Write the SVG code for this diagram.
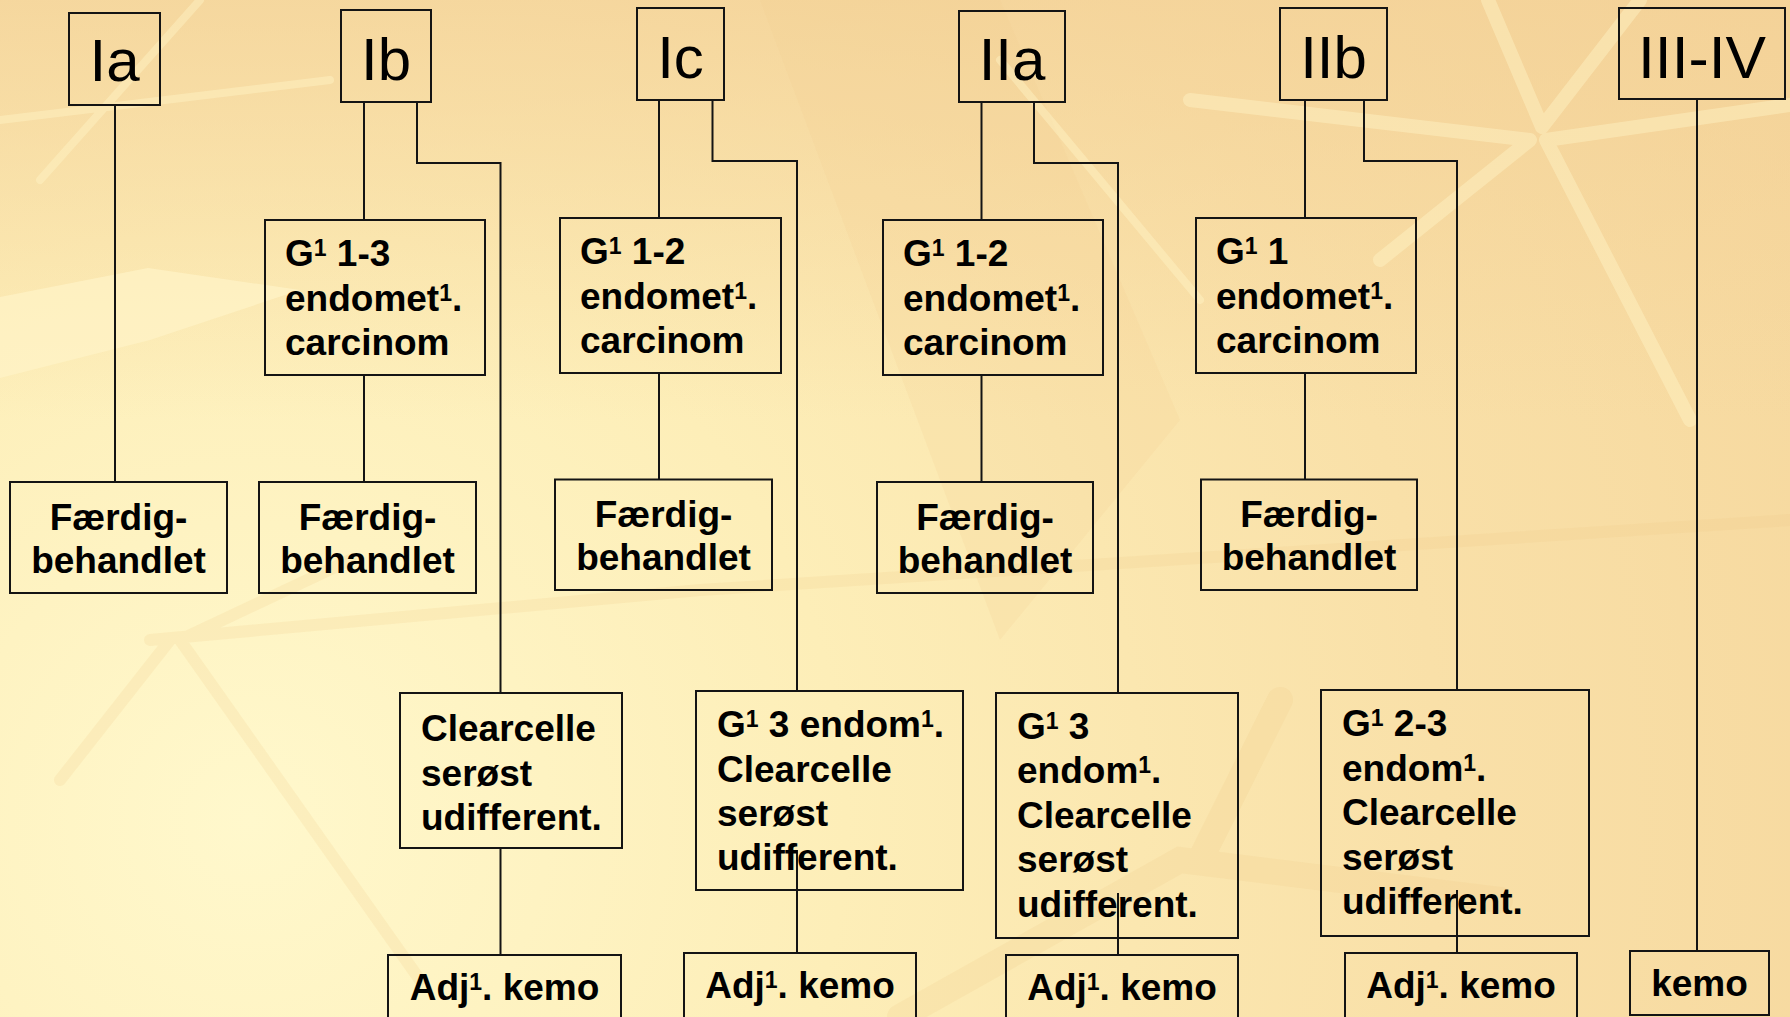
<svg xmlns="http://www.w3.org/2000/svg" width="1790" height="1017" viewBox="0 0 1790 1017">
<defs>
<radialGradient id="bg" cx="250" cy="820" r="1700" gradientUnits="userSpaceOnUse">
<stop offset="0" stop-color="#FFF8CC"/>
<stop offset="0.35" stop-color="#FDEEB8"/>
<stop offset="0.7" stop-color="#F9E0A8"/>
<stop offset="1" stop-color="#F6D89E"/>
</radialGradient>
<linearGradient id="tl" x1="0" y1="0" x2="0" y2="1">
<stop offset="0" stop-color="#F3D096" stop-opacity="0.7"/>
<stop offset="1" stop-color="#F3D096" stop-opacity="0"/>
</linearGradient>
</defs>
<style>
.box{fill:none;stroke:#141414;stroke-width:2}
.con{fill:none;stroke:#141414;stroke-width:2}
.lbl{font-family:"Liberation Sans",Arial,sans-serif;font-size:60px;fill:#000;text-anchor:middle}
.t{font-family:"Liberation Sans",Arial,sans-serif;font-size:37px;font-weight:bold;fill:#000}
.c{text-anchor:middle}
.sup{font-size:23px}
.lite{fill:none;stroke:#FFF3C6;stroke-linecap:round;opacity:0.45}
.dark{fill:none;stroke:#F0C684;stroke-linecap:round;opacity:0.18}
</style>
<g id="background">
<rect width="1790" height="1017" fill="url(#bg)"/>
<rect width="1790" height="420" fill="url(#tl)"/>
<path d="M0 297 L148 268 L300 290 L150 340 L0 378 Z" fill="#FFF4C8" opacity="0.7"/>
<path d="M760 0 L1000 0 L1180 420 L1000 640 Z" fill="#F3CE90" opacity="0.18"/>
<path d="M1190 100 L1530 140 M1488 0 L1542 127 M1640 0 L1542 127 M1546 140 L1690 420 M1546 140 L1790 105 M1530 140 L1380 260" class="lite" stroke-width="14"/>
<path d="M200 0 L40 180 M0 120 L330 80 M1000 60 L1200 300" class="lite" stroke-width="8"/>
<path d="M150 640 L700 590 L1790 520 M170 640 L60 780 M180 640 L420 980 M180 640 L350 560" class="dark" stroke-width="12"/>
<path d="M900 1017 L1180 860 L1500 900 M1200 860 L1280 700" class="dark" stroke-width="26"/>
</g>
<g id="connectors">
<path class="con" d="M115 105 V482"/>
<path class="con" d="M364 102 V220 M364 375 V482 M417 102 V163 H500.5 V693 M500.5 848 V955"/>
<path class="con" d="M659 100 V218 M659 373 V479.5 M712.5 100 V161 H797 V691 M797 850 V953"/>
<path class="con" d="M981.5 102 V220 M981.5 375 V482 M1034 102 V163 H1118 V693 M1118 893 V955"/>
<path class="con" d="M1305 100 V218 M1305 373 V479.5 M1364 100 V161 H1457 V690 M1457 890 V953"/>
<path class="con" d="M1697 99 V951"/>
</g>
<g id="stage-Ia"><rect class="box" x="69" y="13" width="91" height="92"/><text class="lbl" x="114.5" y="81">Ia</text></g>
<g id="stage-Ib"><rect class="box" x="341" y="10" width="90" height="92"/><text class="lbl" x="386" y="80">Ib</text></g>
<g id="stage-Ic"><rect class="box" x="637" y="8" width="87" height="92"/><text class="lbl" x="680.5" y="78">Ic</text></g>
<g id="stage-IIa"><rect class="box" x="959" y="11" width="106" height="91"/><text class="lbl" x="1012" y="80">IIa</text></g>
<g id="stage-IIb"><rect class="box" x="1280" y="8" width="107" height="92"/><text class="lbl" x="1333.5" y="78">IIb</text></g>
<g id="stage-III-IV"><rect class="box" x="1619" y="8" width="166" height="91"/><text class="lbl" x="1702" y="78" textLength="128" lengthAdjust="spacingAndGlyphs">III-IV</text></g>

<g id="grade-Ib"><rect class="box" x="265" y="220" width="220" height="155"/>
<text class="t" x="285" y="266">G<tspan class="sup" dy="-10">1</tspan><tspan dy="10"> 1-3</tspan></text>
<text class="t" x="285" y="311">endomet<tspan class="sup" dy="-10">1</tspan><tspan dy="10">.</tspan></text>
<text class="t" x="285" y="355">carcinom</text></g>
<g id="grade-Ic"><rect class="box" x="560" y="218" width="221" height="155"/>
<text class="t" x="580" y="264">G<tspan class="sup" dy="-10">1</tspan><tspan dy="10"> 1-2</tspan></text>
<text class="t" x="580" y="309">endomet<tspan class="sup" dy="-10">1</tspan><tspan dy="10">.</tspan></text>
<text class="t" x="580" y="353">carcinom</text></g>
<g id="grade-IIa"><rect class="box" x="883" y="220" width="220" height="155"/>
<text class="t" x="903" y="266">G<tspan class="sup" dy="-10">1</tspan><tspan dy="10"> 1-2</tspan></text>
<text class="t" x="903" y="311">endomet<tspan class="sup" dy="-10">1</tspan><tspan dy="10">.</tspan></text>
<text class="t" x="903" y="355">carcinom</text></g>
<g id="grade-IIb"><rect class="box" x="1196" y="218" width="220" height="155"/>
<text class="t" x="1216" y="264">G<tspan class="sup" dy="-10">1</tspan><tspan dy="10"> 1</tspan></text>
<text class="t" x="1216" y="309">endomet<tspan class="sup" dy="-10">1</tspan><tspan dy="10">.</tspan></text>
<text class="t" x="1216" y="353">carcinom</text></g>

<g id="done-Ia"><rect class="box" x="10" y="482" width="217" height="111"/>
<text class="t c" x="118.5" y="530">Færdig-</text><text class="t c" x="118.5" y="573">behandlet</text></g>
<g id="done-Ib"><rect class="box" x="259" y="482" width="217" height="111"/>
<text class="t c" x="367.5" y="530">Færdig-</text><text class="t c" x="367.5" y="573">behandlet</text></g>
<g id="done-Ic"><rect class="box" x="555" y="479.5" width="217" height="110.5"/>
<text class="t c" x="663.5" y="527">Færdig-</text><text class="t c" x="663.5" y="570">behandlet</text></g>
<g id="done-IIa"><rect class="box" x="877" y="482" width="216" height="111"/>
<text class="t c" x="985" y="530">Færdig-</text><text class="t c" x="985" y="573">behandlet</text></g>
<g id="done-IIb"><rect class="box" x="1201" y="479.5" width="216" height="110.5"/>
<text class="t c" x="1309" y="527">Færdig-</text><text class="t c" x="1309" y="570">behandlet</text></g>

<g id="high-Ib"><rect class="box" x="400" y="693" width="222" height="155"/>
<text class="t" x="421" y="741">Clearcelle</text>
<text class="t" x="421" y="786">serøst</text>
<text class="t" x="421" y="830">udifferent.</text></g>
<g id="high-Ic"><rect class="box" x="696" y="691" width="267" height="199"/>
<text class="t" x="717" y="737">G<tspan class="sup" dy="-10">1</tspan><tspan dy="10"> 3 endom</tspan><tspan class="sup" dy="-10">1</tspan><tspan dy="10">.</tspan></text>
<text class="t" x="717" y="781.5">Clearcelle</text>
<text class="t" x="717" y="826">serøst</text>
<text class="t" x="717" y="870">udifferent.</text></g>
<g id="high-IIa"><rect class="box" x="996" y="693" width="242" height="245"/>
<text class="t" x="1017" y="738.5">G<tspan class="sup" dy="-10">1</tspan><tspan dy="10"> 3</tspan></text>
<text class="t" x="1017" y="783">endom<tspan class="sup" dy="-10">1</tspan><tspan dy="10">.</tspan></text>
<text class="t" x="1017" y="827.5">Clearcelle</text>
<text class="t" x="1017" y="872">serøst</text>
<text class="t" x="1017" y="916.5">udifferent.</text></g>
<g id="high-IIb"><rect class="box" x="1321" y="690" width="268" height="246"/>
<text class="t" x="1342" y="736">G<tspan class="sup" dy="-10">1</tspan><tspan dy="10"> 2-3</tspan></text>
<text class="t" x="1342" y="780.5">endom<tspan class="sup" dy="-10">1</tspan><tspan dy="10">.</tspan></text>
<text class="t" x="1342" y="825">Clearcelle</text>
<text class="t" x="1342" y="869.5">serøst</text>
<text class="t" x="1342" y="914">udifferent.</text></g>

<g id="chemo-Ib"><rect class="box" x="388" y="955" width="233" height="80"/>
<text class="t c" x="504.5" y="1000">Adj<tspan class="sup" dy="-10">1</tspan><tspan dy="10">. kemo</tspan></text></g>
<g id="chemo-Ic"><rect class="box" x="684" y="953" width="232" height="80"/>
<text class="t c" x="800" y="998">Adj<tspan class="sup" dy="-10">1</tspan><tspan dy="10">. kemo</tspan></text></g>
<g id="chemo-IIa"><rect class="box" x="1006" y="955" width="232" height="80"/>
<text class="t c" x="1122" y="1000">Adj<tspan class="sup" dy="-10">1</tspan><tspan dy="10">. kemo</tspan></text></g>
<g id="chemo-IIb"><rect class="box" x="1345" y="953" width="232" height="80"/>
<text class="t c" x="1461" y="998">Adj<tspan class="sup" dy="-10">1</tspan><tspan dy="10">. kemo</tspan></text></g>
<g id="chemo-III-IV"><rect class="box" x="1630" y="951" width="139" height="64"/>
<text class="t c" x="1699.5" y="996">kemo</text></g>
</svg>
